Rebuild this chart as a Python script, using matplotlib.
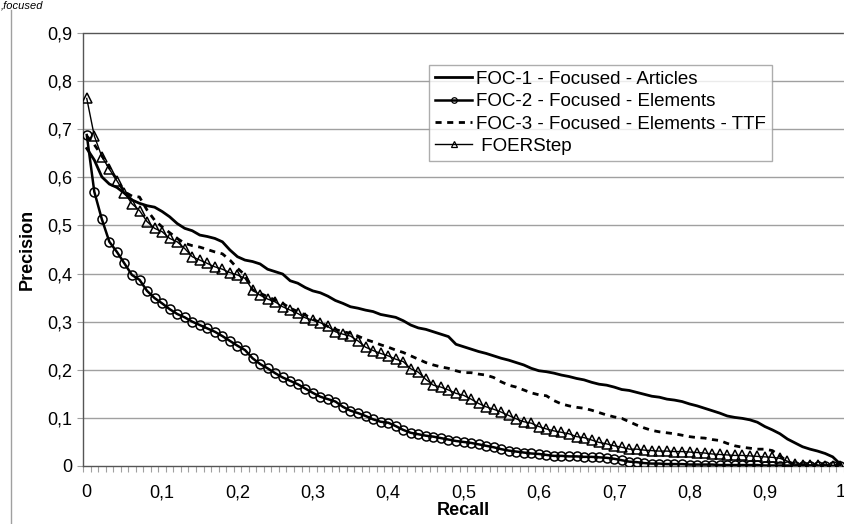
import matplotlib
matplotlib.use("Agg")
import matplotlib.pyplot as plt
from matplotlib.lines import Line2D
import numpy as np

plt.rcParams['font.family'] = ['Liberation Sans', 'DejaVu Sans']

# recall levels (101 points)
recall = [i / 100 for i in range(101)]

foc1 = [0.660, 0.636, 0.601, 0.586, 0.579, 0.567, 0.553, 0.546, 0.541, 0.538,
        0.529, 0.518, 0.504, 0.494, 0.489, 0.480, 0.477, 0.473, 0.466, 0.449,
        0.435, 0.428, 0.425, 0.420, 0.409, 0.404, 0.399, 0.385, 0.380, 0.371,
        0.364, 0.360, 0.353, 0.344, 0.338, 0.331, 0.328, 0.324, 0.321, 0.315,
        0.312, 0.309, 0.302, 0.293, 0.287, 0.284, 0.279, 0.274, 0.269, 0.253,
        0.248, 0.243, 0.238, 0.234, 0.229, 0.224, 0.220, 0.215, 0.210, 0.203,
        0.198, 0.196, 0.193, 0.189, 0.186, 0.182, 0.179, 0.174, 0.170, 0.168,
        0.164, 0.159, 0.157, 0.153, 0.149, 0.145, 0.143, 0.139, 0.137, 0.134,
        0.129, 0.125, 0.120, 0.115, 0.110, 0.104, 0.101, 0.099, 0.096, 0.091,
        0.082, 0.075, 0.067, 0.056, 0.048, 0.040, 0.035, 0.031, 0.026, 0.019,
        0.004]

foc2 = [0.688, 0.570, 0.513, 0.466, 0.445, 0.421, 0.397, 0.387, 0.364, 0.349,
        0.338, 0.326, 0.316, 0.309, 0.300, 0.293, 0.286, 0.279, 0.270, 0.260,
        0.250, 0.241, 0.224, 0.212, 0.203, 0.193, 0.184, 0.177, 0.170, 0.161,
        0.152, 0.144, 0.139, 0.134, 0.123, 0.115, 0.110, 0.104, 0.097, 0.092,
        0.090, 0.083, 0.075, 0.069, 0.066, 0.063, 0.061, 0.058, 0.055, 0.052,
        0.050, 0.048, 0.045, 0.042, 0.039, 0.035, 0.032, 0.030, 0.028, 0.026,
        0.025, 0.023, 0.021, 0.021, 0.020, 0.020, 0.019, 0.019, 0.018, 0.017,
        0.015, 0.012, 0.009, 0.008, 0.006, 0.005, 0.005, 0.004, 0.004, 0.004,
        0.003, 0.003, 0.003, 0.003, 0.002, 0.002, 0.002, 0.002, 0.002, 0.002,
        0.001, 0.001, 0.001, 0.001, 0.001, 0.001, 0.001, 0.000, 0.000, 0.000,
        0.000]

foc3 = [0.686, 0.668, 0.645, 0.620, 0.595, 0.570, 0.561, 0.559, 0.532, 0.511,
        0.497, 0.485, 0.473, 0.463, 0.458, 0.455, 0.450, 0.445, 0.441, 0.428,
        0.411, 0.397, 0.366, 0.359, 0.352, 0.345, 0.338, 0.328, 0.321, 0.314,
        0.305, 0.298, 0.290, 0.284, 0.279, 0.276, 0.270, 0.263, 0.258, 0.252,
        0.247, 0.241, 0.236, 0.229, 0.222, 0.215, 0.210, 0.206, 0.203, 0.198,
        0.194, 0.194, 0.191, 0.189, 0.184, 0.175, 0.168, 0.164, 0.158, 0.152,
        0.148, 0.146, 0.136, 0.129, 0.125, 0.122, 0.120, 0.116, 0.111, 0.106,
        0.102, 0.099, 0.092, 0.085, 0.079, 0.074, 0.071, 0.069, 0.067, 0.064,
        0.061, 0.059, 0.058, 0.055, 0.053, 0.047, 0.042, 0.039, 0.037, 0.035,
        0.035, 0.032, 0.021, 0.009, 0.004, 0.003, 0.002, 0.002, 0.001, 0.001,
        0.001]

foer = [0.764, 0.686, 0.643, 0.617, 0.593, 0.568, 0.545, 0.531, 0.508, 0.494,
        0.487, 0.473, 0.466, 0.452, 0.435, 0.428, 0.421, 0.414, 0.409, 0.402,
        0.397, 0.390, 0.366, 0.355, 0.347, 0.341, 0.331, 0.324, 0.317, 0.308,
        0.303, 0.298, 0.290, 0.279, 0.274, 0.270, 0.260, 0.247, 0.240, 0.234,
        0.229, 0.222, 0.217, 0.202, 0.195, 0.180, 0.168, 0.164, 0.158, 0.151,
        0.147, 0.139, 0.130, 0.123, 0.118, 0.112, 0.105, 0.098, 0.092, 0.089,
        0.082, 0.077, 0.073, 0.070, 0.067, 0.061, 0.059, 0.054, 0.049, 0.046,
        0.042, 0.039, 0.035, 0.035, 0.033, 0.032, 0.031, 0.031, 0.030, 0.030,
        0.029, 0.028, 0.027, 0.025, 0.024, 0.023, 0.022, 0.022, 0.021, 0.020,
        0.019, 0.018, 0.016, 0.010, 0.004, 0.003, 0.002, 0.002, 0.001, 0.001,
        0.001]

labels = ['FOC-1 - Focused - Articles', 'FOC-2 - Focused - Elements',
          'FOC-3 - Focused - Elements - TTF', ' FOERStep']

xtick_vals = [0, 0.1, 0.2, 0.3, 0.4, 0.5, 0.6, 0.7, 0.8, 0.9, 1.0]
xtick_labels = ['0', '0,1', '0,2', '0,3', '0,4', '0,5', '0,6', '0,7', '0,8', '0,9', '1']
ytick_vals = [0, 0.1, 0.2, 0.3, 0.4, 0.5, 0.6, 0.7, 0.8, 0.9]
ytick_labels = ['0', '0,1', '0,2', '0,3', '0,4', '0,5', '0,6', '0,7', '0,8', '0,9']

fig = plt.figure(figsize=(8.44, 5.24), dpi=100)
ax = fig.add_axes([83 / 844, 1 - 466 / 524, 761 / 844, 433 / 524])

grid_c = '#a0a0a0'
for v in ytick_vals[1:-1]:
    ax.axhline(v, color=grid_c, lw=1.0, zorder=0)

dash = (0, (2.2, 2.0))
ax.plot(recall, foc1, color='black', lw=2.0, zorder=3)
ax.plot(recall, foc2, color='black', lw=1.8, marker='o', ms=6.5,
        mfc='none', mec='black', mew=1.1, zorder=3)
ax.plot(recall, foc3, color='black', lw=2.0, ls=dash, zorder=3)
ax.plot(recall, foer, color='black', lw=1.0, marker='^', ms=6.5,
        mfc='none', mec='black', mew=1.1, zorder=4)

ax.set_xlim(-0.005, 1.005)
ax.set_ylim(0, 0.9)

fs = 13
ax.set_xticks(xtick_vals)
ax.set_xticklabels(xtick_labels)
ax.set_xticks(np.arange(-0.005, 1.006, 0.01), minor=True)
ax.tick_params(axis='x', which='major', length=0, pad=13, labelsize=fs)
ax.tick_params(axis='x', which='minor', length=4, color=grid_c, width=0.8)
ax.set_yticks(ytick_vals)
ax.set_yticklabels(ytick_labels)
ax.tick_params(axis='y', length=4, color=grid_c, width=0.8, pad=4, labelsize=fs)

for side in ['left', 'bottom', 'top']:
    ax.spines[side].set_linestyle((0, (1, 1)))
    ax.spines[side].set_color('#555555')
    ax.spines[side].set_linewidth(1.0)
ax.spines['right'].set_visible(False)

ax.set_xlabel('Recall', fontsize=fs, fontweight='bold', labelpad=1)
ax.set_ylabel('Precision', fontsize=fs, fontweight='bold', labelpad=8)

handles = [
    Line2D([], [], color='black', lw=2.0),
    Line2D([], [], color='black', lw=1.8, marker='o', ms=4, mfc='none', mew=0.9),
    Line2D([], [], color='black', lw=2.0, ls=dash),
    Line2D([], [], color='black', lw=1.0, marker='^', ms=4, mfc='none', mew=0.9),
]
leg = ax.legend(handles, labels, loc='upper left', bbox_to_anchor=(0.455, 0.926),
                fontsize=13.5, frameon=True, fancybox=False, handlelength=2.0,
                handletextpad=0.2, labelspacing=0.28, borderpad=0.3,
                borderaxespad=0)
leg.get_frame().set_edgecolor('#999999')
leg.get_frame().set_linewidth(1.0)

# page border and caption fragment from the source document
fig.add_artist(Line2D([11 / 844, 11 / 844], [0, 1 - 10 / 524], color='#a0a0a0', lw=1.0))
fig.text(0.001, 0.999, ',focused', fontsize=8, style='italic', ha='left', va='top')

fig.savefig('out.png', dpi=100)
